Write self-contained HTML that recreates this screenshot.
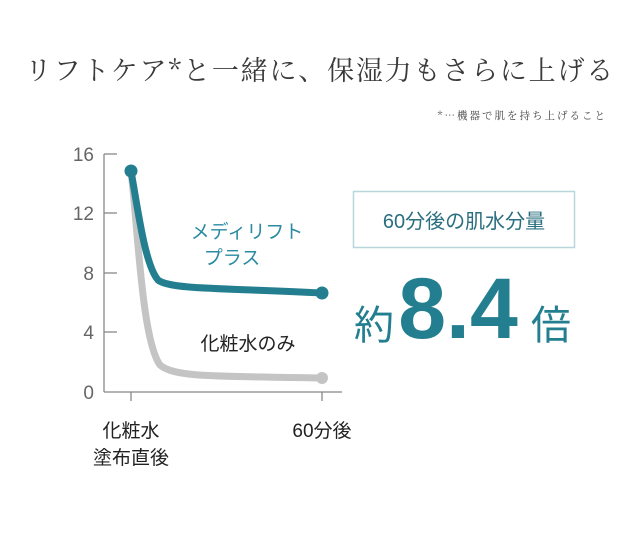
<!DOCTYPE html>
<html><head><meta charset="utf-8"><style>
body{margin:0;background:#fff;}
svg{display:block}
</style></head><body>
<svg width="640" height="546" xmlns="http://www.w3.org/2000/svg">
<rect width="640" height="546" fill="#fff"/>
<text x="320" y="80" text-anchor="middle" font-family="'Noto Serif CJK SC','Liberation Serif',serif" font-size="27" fill="#3a3a3a" letter-spacing="1.8">リフトケア*と一緒に、保湿力もさらに上げる</text>
<text x="607" y="119" text-anchor="end" font-family="'Noto Serif CJK SC','Liberation Serif',serif" font-size="10.5" fill="#444" letter-spacing="2">*…機器で肌を持ち上げること</text>
<g font-family="'Liberation Sans','Noto Sans CJK JP',sans-serif" fill="#666" font-size="19">
<text x="94" y="161" text-anchor="end">16</text>
<text x="94" y="220" text-anchor="end">12</text>
<text x="94" y="280" text-anchor="end">8</text>
<text x="94" y="339" text-anchor="end">4</text>
<text x="94" y="399" text-anchor="end">0</text>
</g>
<g stroke="#888" stroke-width="1.3" fill="none">
<line x1="104" y1="154" x2="104" y2="392"/>
<line x1="104" y1="392" x2="342" y2="392"/>
<line x1="104" y1="154" x2="117" y2="154"/>
<line x1="104" y1="213" x2="117" y2="213"/>
<line x1="104" y1="273" x2="117" y2="273"/>
<line x1="104" y1="332" x2="117" y2="332"/>
<line x1="131" y1="392" x2="131" y2="401"/>
<line x1="322" y1="392" x2="322" y2="401"/>
</g>
<path d="M131 171 C138 230 142 340 160 365 C175 378 220 376 322 378" stroke="#c4c4c4" stroke-width="7" fill="none" stroke-linecap="round"/>
<circle cx="322" cy="378" r="6" fill="#c4c4c4"/>
<path d="M131 171 C138 210 145 265 158 280 C170 290 230 288 322 293" stroke="#237f8f" stroke-width="7" fill="none" stroke-linecap="round"/>
<circle cx="131" cy="171" r="6.5" fill="#237f8f"/>
<circle cx="322" cy="293" r="6.5" fill="#237f8f"/>
<g font-family="'Liberation Sans','Noto Sans CJK JP',sans-serif">
<text x="247" y="238" text-anchor="middle" font-size="19" fill="#2a8ba0">メディリフト</text>
<text x="232" y="264" text-anchor="middle" font-size="19" fill="#2a8ba0">プラス</text>
<text x="248" y="350" text-anchor="middle" font-size="19" fill="#222">化粧水のみ</text>
<text x="131" y="437" text-anchor="middle" font-size="19" fill="#222">化粧水</text>
<text x="131" y="464" text-anchor="middle" font-size="19" fill="#222">塗布直後</text>
<text x="322" y="437" text-anchor="middle" font-size="19" fill="#222">60分後</text>
<rect x="353.5" y="191.5" width="221" height="56" fill="#fff" stroke="#b8d6dc" stroke-width="1.5"/>
<text x="464" y="228" text-anchor="middle" font-size="20" fill="#2a6f80">60分後の肌水分量</text>
<text x="374" y="339" text-anchor="middle" font-size="40" fill="#237f8f">約</text>
<text x="458" y="338" text-anchor="middle" font-size="86" font-weight="bold" fill="#237f8f">8.4</text>
<text x="551" y="339" text-anchor="middle" font-size="40" fill="#237f8f">倍</text>
</g>
</svg>
</body></html>
